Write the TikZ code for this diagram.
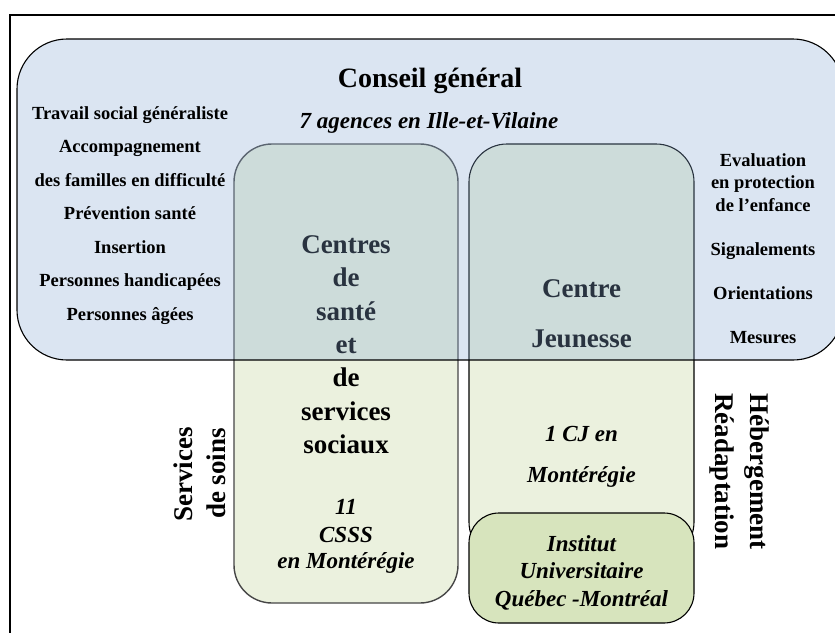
\documentclass[tikz,border=0pt]{standalone}
\usepackage{fontspec}
\setmainfont{Liberation Serif}
\definecolor{bluefill}{RGB}{138,172,212}
\definecolor{greenfill}{RGB}{235,241,222}
\definecolor{instfill}{RGB}{215,228,189}
\definecolor{boxgray}{RGB}{70,70,70}
\begin{document}
\begin{tikzpicture}[x=1pt,y=-1pt,
  every node/.style={inner sep=0pt, outer sep=0pt},
  frameline/.style={draw=black, line width=2.8pt},
  roundbox/.style={rectangle, rounded corners=#1, draw=black, line width=1.1pt},
  greenbox/.style={roundbox=38pt, fill=greenfill},
  lst/.style={anchor=base, font=\bfseries\fontsize{18.5}{22}\selectfont},
  big/.style={anchor=base, font=\bfseries\fontsize{27}{33}\selectfont},
  ital/.style={anchor=base, font=\bfseries\itshape\fontsize{23}{28}\selectfont},
  titletext/.style={anchor=base, font=\bfseries\fontsize{28}{34}\selectfont}
]
\useasboundingbox (0,0) rectangle (835,632);
\clip (0,0) rectangle (835,632);
\fill[white] (0,0) rectangle (835,632);

% outer frame (runs past the right and bottom edges)
\draw[frameline] (10,15) rectangle (900,700);

% health and social services centres
\node[greenbox, draw=boxgray, line width=1.4pt, minimum width=224pt, minimum height=459pt] (csss) at (346,373.5) {};
% youth centre
\node[greenbox, minimum width=225pt, minimum height=416pt] (cj) at (581.5,352) {};
% university institute
\node[roundbox=30pt, fill=instfill, minimum width=225pt, minimum height=110pt] (inst) at (581.5,568) {};

% texts of the health and social services centres
\node[big] (c1) at (346,253) {Centres};
\node[big] (c2) at (346,286.5) {de};
\node[big] (c3) at (346,320) {santé};
\node[big] (c4) at (346,353) {et};
\node[big] (c5) at (346,386.5) {de};
\node[big] (c6) at (346,420) {services};
\node[big] (c7) at (346,453) {sociaux};
\node[ital] (n1) at (346,514) {11};
\node[ital] (n2) at (346,542) {CSSS};
\node[ital] (n3) at (346,568.5) {en Montérégie};

% texts of the youth centre
\node[big] (j1) at (581.5,297) {Centre};
\node[big] (j2) at (581.5,347) {Jeunesse};
\node[ital] (j3) at (581.5,441) {1 CJ en};
\node[ital] (j4) at (581.5,482) {Montérégie};

% texts of the institute
\node[ital] (i1) at (581.5,551) {Institut};
\node[ital] (i2) at (581.5,578) {Universitaire};
\node[ital] (i3) at (581.5,606) {Québec -Montréal};

% general council, laid over the centres
\node[roundbox=50pt, fill=bluefill, fill opacity=0.3, minimum width=826pt, minimum height=321pt] (cg) at (430,199.5) {};

\node[titletext] (cgt) at (430,87) {Conseil général};
\node[ital] (cga) at (429,128.5) {7 agences en Ille-et-Vilaine};

\node[lst] (l1) at (130,119) {Travail social généraliste};
\node[lst] (l2) at (130,152.5) {Accompagnement};
\node[lst] (l3) at (130,186) {des familles en difficulté};
\node[lst] (l4) at (130,219.5) {Prévention santé};
\node[lst] (l5) at (130,253) {Insertion};
\node[lst] (l6) at (130,286.5) {Personnes handicapées};
\node[lst] (l7) at (130,320) {Personnes âgées};

\node[lst] (r1) at (763,166) {Evaluation};
\node[lst] (r2) at (763,188.5) {en protection};
\node[lst] (r3) at (763,211) {de l’enfance};
\node[lst] (r4) at (763,255) {Signalements};
\node[lst] (r5) at (763,299) {Orientations};
\node[lst] (r6) at (763,343) {Mesures};

% side labels
\node[big, rotate=90] (s1) at (192,474.5) {Services};
\node[big, rotate=90] (s2) at (225,473.5) {de soins};
\node[big, rotate=-90] (h1) at (750,471.5) {Hébergement};
\node[big, rotate=-90] (h2) at (715,471.5) {Réadaptation};
\end{tikzpicture}
\end{document}
